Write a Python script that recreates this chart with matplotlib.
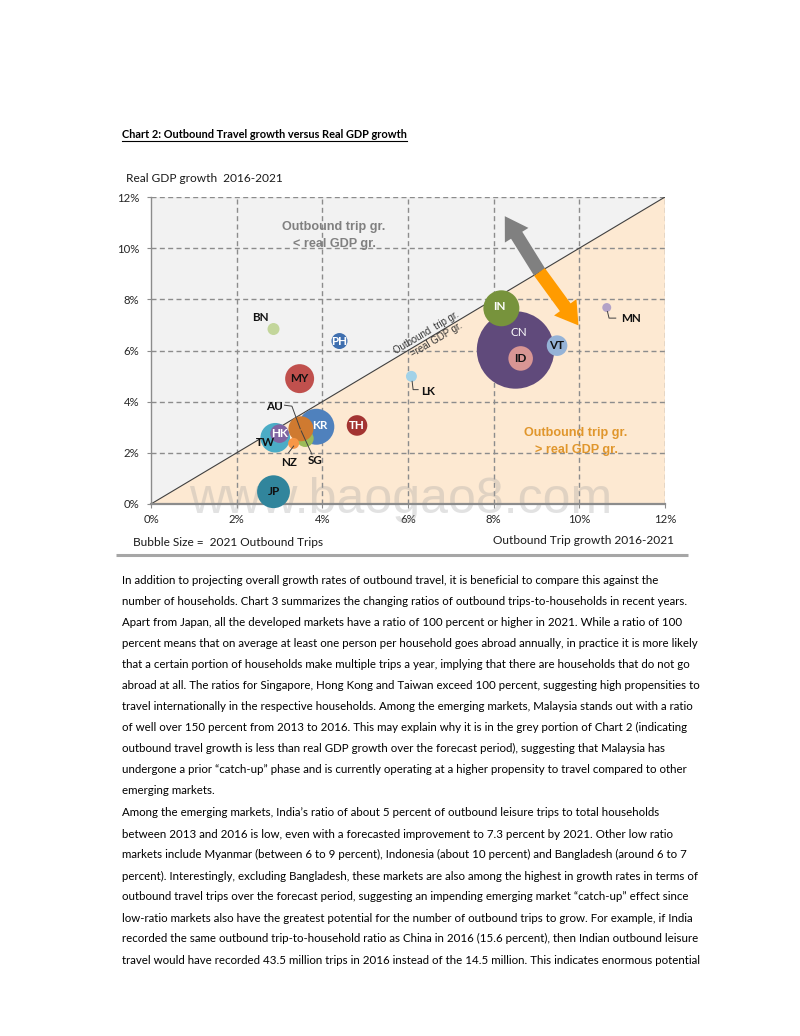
import matplotlib
matplotlib.use("Agg")
import matplotlib.pyplot as plt
import matplotlib.transforms as mtrans
from matplotlib.patches import FancyArrowPatch
from matplotlib.lines import Line2D
import numpy as np

# ---------------- data ----------------
codes = ['CN', 'IN', 'KR', 'JP', 'TW', 'MY', 'SG', 'AU', 'ID', 'VT', 'TH',
         'HK', 'PH', 'BN', 'LK', 'NZ', 'MN']
trip_growth = [8.51, 8.18, 3.86, 2.86, 2.90, 3.47, 3.60, 3.50, 8.63, 9.48, 4.81,
               3.00, 4.40, 2.86, 6.08, 3.33, 10.64]
gdp_growth = [6.02, 7.65, 3.02, 0.48, 2.59, 4.90, 2.56, 2.94, 5.69, 6.19, 3.07,
              2.75, 6.37, 6.84, 4.99, 2.37, 7.68]
trips_2021 = [150, 32.4, 32.4, 27.0, 21.9, 21.0, 7.2, 15.6, 15.1, 10.6, 10.6,
              8.6, 6.4, 3.6, 3.0, 3.0, 2.0]
bubble_colors = ['#604A7B', '#77933C', '#4F81BD', '#31859C', '#4BACC6', '#C0504D',
                 '#9BBB59', '#CF7A30', '#D99694', '#95B3D7', '#A33432', '#8064A2',
                 '#3F6FAF', '#C3D69B', '#A2D2E8', '#F79646', '#B3A2C7']

axis_ticks = [0, 2, 4, 6, 8, 10, 12]
tick_labels = ['0%', '2%', '4%', '6%', '8%', '10%', '12%']

title = "Chart 2: Outbound Travel growth versus Real GDP growth"
y_title = "Real GDP growth  2016-2021"
x_title = "Outbound Trip growth 2016-2021"
size_note = "Bubble Size =  2021 Outbound Trips"
watermark = "www.baogao8.com"

para1 = [
    "In addition to projecting overall growth rates of outbound travel, it is beneficial to compare this against the",
    "number of households. Chart 3 summarizes the changing ratios of outbound trips-to-households in recent years.",
    "Apart from Japan, all the developed markets have a ratio of 100 percent or higher in 2021. While a ratio of 100",
    "percent means that on average at least one person per household goes abroad annually, in practice it is more likely",
    "that a certain portion of households make multiple trips a year, implying that there are households that do not go",
    "abroad at all. The ratios for Singapore, Hong Kong and Taiwan exceed 100 percent, suggesting high propensities to",
    "travel internationally in the respective households. Among the emerging markets, Malaysia stands out with a ratio",
    "of well over 150 percent from 2013 to 2016. This may explain why it is in the grey portion of Chart 2 (indicating",
    "outbound travel growth is less than real GDP growth over the forecast period), suggesting that Malaysia has",
    "undergone a prior \u201ccatch-up\u201d phase and is currently operating at a higher propensity to travel compared to other",
    "emerging markets.",
]
para2 = [
    "Among the emerging markets, India\u2019s ratio of about 5 percent of outbound leisure trips to total households",
    "between 2013 and 2016 is low, even with a forecasted improvement to 7.3 percent by 2021. Other low ratio",
    "markets include Myanmar (between 6 to 9 percent), Indonesia (about 10 percent) and Bangladesh (around 6 to 7",
    "percent). Interestingly, excluding Bangladesh, these markets are also among the highest in growth rates in terms of",
    "outbound travel trips over the forecast period, suggesting an impending emerging market \u201ccatch-up\u201d effect since",
    "low-ratio markets also have the greatest potential for the number of outbound trips to grow. For example, if India",
    "recorded the same outbound trip-to-household ratio as China in 2016 (15.6 percent), then Indian outbound leisure",
    "travel would have recorded 43.5 million trips in 2016 instead of the 14.5 million. This indicates enormous potential",
]

# ---------------- styling / layout ----------------
W, H, DPI = 800, 1036, 100
BODY = ['Lato', 'DejaVu Sans']
ARIAL = ['Liberation Sans', 'DejaVu Sans']
S_PER_TRIP = 20.7  # marker area (pt^2) per million trips

# label placement: offset from bubble centre in pixels (x right, y down)
label_cfg = {
    'CN': dict(off=(3.6, -17.6), color='white', weight='normal'),
    'IN': dict(off=(-2, -1.5), color='white'),
    'KR': dict(off=(3, -1), color='white'),
    'JP': dict(off=(0, 0), color='#111111'),
    'TW': dict(off=(-10, 5), color='#111111'),
    'MY': dict(off=(0, 0), color='#111111'),
    'SG': dict(off=(10, 22.4), color='#111111'),
    'AU': dict(off=(-26.4, -22.6), color='#111111'),
    'ID': dict(off=(0, 0), color='#111111'),
    'VT': dict(off=(0, 0), color='#111111'),
    'TH': dict(off=(0, 0), color='white'),
    'HK': dict(off=(0, 0), color='white'),
    'PH': dict(off=(0, 0), color='white'),
    'BN': dict(off=(-13.3, -12), color='#111111'),
    'LK': dict(off=(10, 15.3), color='#111111', ha='left'),
    'NZ': dict(off=(-5, 18.7), color='#111111'),
    'MN': dict(off=(14, 11.3), color='#111111', ha='left'),
}
leaders = {
    'MN': [(0.7, 4), (2.3, 10.6), (9, 10.6)],
    'LK': [(0.7, 5), (1.7, 13.3), (6.7, 13.3)],
    'AU': [(-16.4, -23.6), (-9, -22.6), (-0.7, 0)],
    'NZ': [(0, 2.7), (-5, 9.3)],
    'SG': [(-4, -7.6), (6.7, 15.7)],
}

fig = plt.figure(figsize=(W / DPI, H / DPI), dpi=DPI)
fig.patch.set_facecolor('white')
renderer = fig.canvas.get_renderer()


def fx(x):
    return x / W


def fy(y):
    return 1 - y / H


def fitted_size(sample, target_px, family, weight='normal', base=10.0):
    t = fig.text(0, 0, sample, fontsize=base, family=family, weight=weight)
    w = t.get_window_extent(renderer).width
    t.remove()
    return base * target_px / w


# ---------------- page text ----------------
body_size = fitted_size(para1[3], 574, BODY)
title_size = fitted_size(title, 286, BODY, weight='bold')
LEFT = 122
tt = fig.text(fx(LEFT), fy(138.5), title, fontsize=title_size, family=BODY,
              weight='bold', ha='left', va='baseline', color='#000000')
bb = tt.get_window_extent(renderer)
fig.add_artist(Line2D([fx(bb.x0), fx(bb.x1)], [fy(140.8), fy(140.8)],
                      color='#000000', lw=0.8, transform=fig.transFigure))

for k, line in enumerate(para1):
    fig.text(fx(LEFT), fy(583.5 + 21.1 * k), line, fontsize=body_size,
             family=BODY, ha='left', va='baseline', color='#000000')
for k, line in enumerate(para2):
    fig.text(fx(LEFT), fy(816.5 + 21.0 * k), line, fontsize=body_size,
             family=BODY, ha='left', va='baseline', color='#000000')

# separator line below the chart
fig.add_artist(Line2D([fx(116), fx(688)], [fy(555), fy(555)], color='#A6A6A6',
                      lw=2.2, transform=fig.transFigure, solid_capstyle='butt'))

# ---------------- chart ----------------
ax = fig.add_axes([fx(151), fy(504), (665 - 151) / W, (504 - 197) / H])
ax.set_xlim(0, 12)
ax.set_ylim(0, 12)
ax.set_facecolor('none')
ax.fill([0, 0, 12], [0, 12, 12], color='#F2F2F2', lw=0, zorder=0)
ax.fill([0, 12, 12], [0, 0, 12], color='#FDE9D2', lw=0, zorder=0)
for v in axis_ticks[1:]:
    ax.axvline(v, color='#8C8C8C', lw=1.0, ls=(0, (3.6, 2.4)), zorder=1)
    ax.axhline(v, color='#8C8C8C', lw=1.0, ls=(0, (3.6, 2.4)), zorder=1)
ax.plot([0, 12], [0, 12], color='#404040', lw=0.8, zorder=2)

for s in ['top', 'right']:
    ax.spines[s].set_visible(False)
ax.spines['left'].set_color('#8C8C8C')
ax.spines['left'].set_linewidth(1.0)
ax.spines['bottom'].set_color('#8C8C8C')
ax.spines['bottom'].set_linewidth(1.6)

tick_size = fitted_size('12%', 22.5, BODY)
ax.set_xticks(axis_ticks)
ax.set_yticks(axis_ticks)
ax.set_xticklabels(tick_labels, fontsize=tick_size, family=BODY, color='#262626')
ax.set_yticklabels(tick_labels, fontsize=tick_size, family=BODY, color='#262626')
ax.tick_params(axis='both', length=3, color='#8C8C8C', width=0.8)
ax.tick_params(axis='y', pad=5.5)
ax.tick_params(axis='x', pad=4.5)

# watermark (under bubbles)
wm_size = fitted_size(watermark, 422, ARIAL)
ax.text(fx(401), fy(513), watermark, transform=fig.transFigure, fontsize=wm_size,
        family=ARIAL, color='#A0A0A0', alpha=0.30, ha='center', va='baseline',
        zorder=2.5, clip_on=False)

# bubbles
sizes = [S_PER_TRIP * t for t in trips_2021]
ax.scatter(trip_growth, gdp_growth, s=sizes, c=bubble_colors, linewidths=0,
           zorder=3, clip_on=False)

# labels and leader lines
lab_size = fitted_size('MN', 20, BODY, weight='bold')
for code, xv, yv in zip(codes, trip_growth, gdp_growth):
    cfg = label_cfg[code]
    dx, dy = cfg['off']
    ax.annotate(code, (xv, yv), xytext=(dx * 0.72, -dy * 0.72),
                textcoords='offset points', ha=cfg.get('ha', 'center'),
                va='center', fontsize=lab_size, family=BODY,
                weight=cfg.get('weight', 'bold'), color=cfg['color'], zorder=6)
    if code in leaders:
        cx, cy = ax.transData.transform((xv, yv))
        pts = leaders[code]
        xs = [cx + p[0] for p in pts]
        ys = [cy - p[1] for p in pts]
        ax.add_line(Line2D(xs, ys, transform=mtrans.IdentityTransform(),
                           color='#404040', lw=0.7, zorder=5.5))

# double arrow split at the diagonal
arrow_mid = (9.07, 9.07)
gray_tip = (8.26, 11.25)
orange_tip = (9.98, 6.98)
astyle = 'simple,tail_width=0.5,head_width=1.05,head_length=0.85'
ax.add_patch(FancyArrowPatch(arrow_mid, gray_tip, arrowstyle=astyle,
                             mutation_scale=19, color='#808080', lw=0,
                             shrinkA=0, shrinkB=0, zorder=7))
ax.add_patch(FancyArrowPatch(arrow_mid, orange_tip, arrowstyle=astyle,
                             mutation_scale=19, color='#FF9B00', lw=0,
                             shrinkA=0, shrinkB=0, zorder=7))

# diagonal label
p0 = ax.transData.transform((0, 0))
p1 = ax.transData.transform((12, 12))
ang = np.degrees(np.arctan2(p1[1] - p0[1], p1[0] - p0[0]))
nrm = np.array([-np.sin(np.radians(ang)), np.cos(np.radians(ang))])
diag_size = fitted_size('Outbound  trip gr.', 75, ARIAL)
for txt, xd, side in [('Outbound  trip gr.', 6.5, 1), ('=real GDP gr.', 6.6, -1)]:
    tr = mtrans.offset_copy(ax.transData, fig=fig, x=side * 5.4 * nrm[0],
                            y=side * 5.4 * nrm[1], units='dots')
    ax.text(xd, xd, txt, transform=tr, rotation=ang, rotation_mode='anchor',
            ha='center', va='center', fontsize=diag_size, family=ARIAL,
            color='#333333', zorder=4)

# region annotations
reg_size = fitted_size('Outbound trip gr.', 104, ARIAL, weight='bold')
fig.text(fx(334), fy(227.3), 'Outbound trip gr.', ha='center', va='center',
         fontsize=reg_size, family=ARIAL, weight='bold', color='#808080')
fig.text(fx(334), fy(243.5), '< real GDP gr.', ha='center', va='center',
         fontsize=reg_size, family=ARIAL, weight='bold', color='#808080')
fig.text(fx(576), fy(433), 'Outbound trip gr.', ha='center', va='center',
         fontsize=reg_size, family=ARIAL, weight='bold', color='#E0962C')
fig.text(fx(576), fy(449.5), '> real GDP gr.', ha='center', va='center',
         fontsize=reg_size, family=ARIAL, weight='bold', color='#E0962C')

# axis captions
cap_size = fitted_size(y_title, 157, BODY)
fig.text(fx(126), fy(181.5), y_title, ha='left', va='baseline', fontsize=cap_size,
         family=BODY, color='#1A1A1A')
fig.text(fx(133), fy(545.5), size_note, ha='left', va='baseline',
         fontsize=cap_size, family=BODY, color='#1A1A1A')
fig.text(fx(674), fy(544.5), x_title, ha='right', va='baseline',
         fontsize=cap_size, family=BODY, color='#1A1A1A')

fig.savefig('out.png', dpi=DPI, facecolor='white')
